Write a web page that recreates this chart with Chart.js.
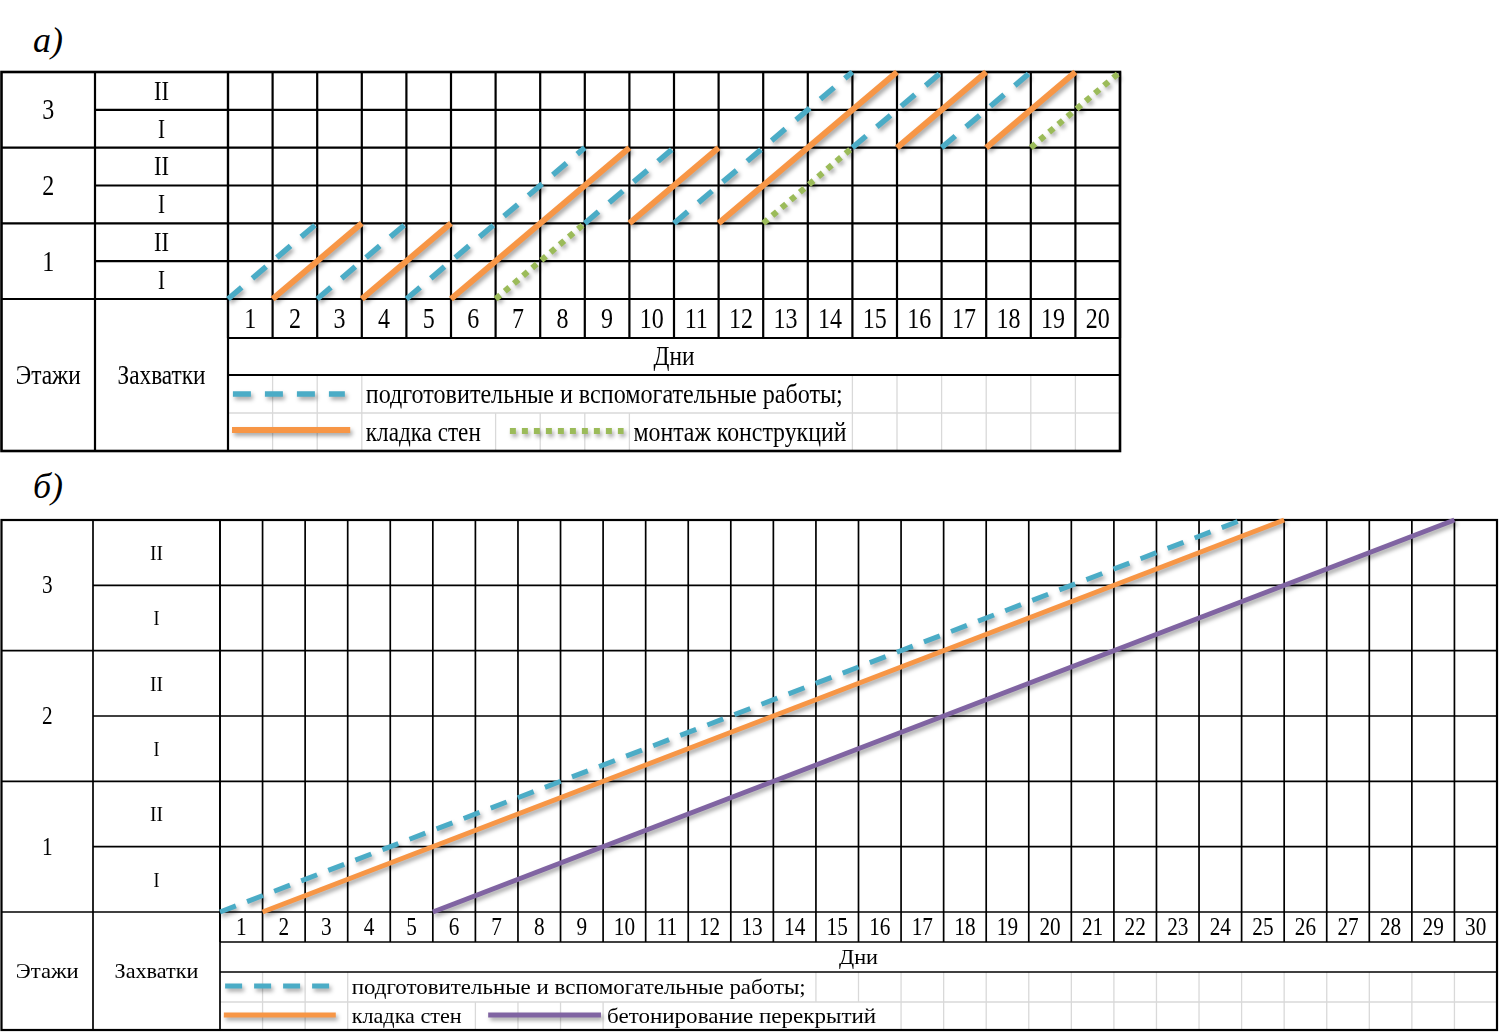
<!DOCTYPE html>
<html lang="ru">
<head>
<meta charset="utf-8">
<title>Циклограммы работ</title>
<script src="https://cdn.jsdelivr.net/npm/chart.js@4.4.1/dist/chart.umd.min.js"></script>
<style>
  html, body { margin: 0; padding: 0; background: #fff; }
  body { position: relative; width: 1500px; height: 1033px; overflow: hidden; font-family: "Liberation Serif", "Times New Roman", serif; }
  .tag { position: absolute; left: 33px; font-size: 36px; font-style: italic; line-height: 1; }
  canvas { position: absolute; left: 0; }
</style>
</head>
<body>
<div class="tag" style="top:22px">а)</div>
<div class="tag" style="top:468px">б)</div>
<canvas id="chartA" width="1500" height="470" style="top:0"></canvas>
<canvas id="chartB" width="1500" height="563" style="top:470px"></canvas>

<script>
// ---------- data: panel а) ----------
const daysA = [1, 2, 3, 4, 5, 6, 7, 8, 9, 10, 11, 12, 13, 14, 15, 16, 17, 18, 19, 20];
// segments: [start day, start zone, end day, end zone]
const prepA = [[0, 0, 2, 2], [2, 0, 4, 2], [4, 0, 8, 4], [8, 2, 10, 4], [10, 2, 14, 6], [14, 4, 16, 6], [16, 4, 18, 6]];
const wallsA = [[1, 0, 3, 2], [3, 0, 5, 2], [5, 0, 9, 4], [9, 2, 11, 4], [11, 2, 15, 6], [15, 4, 17, 6], [17, 4, 19, 6]];
const mountA = [[6, 0, 8, 2], [12, 2, 14, 4], [18, 4, 20, 6]];

// ---------- data: panel б) ----------
const daysB = [1, 2, 3, 4, 5, 6, 7, 8, 9, 10, 11, 12, 13, 14, 15, 16, 17, 18, 19, 20,
  21, 22, 23, 24, 25, 26, 27, 28, 29, 30];
const prepB = [[0, 0, 24, 6]];
const wallsB = [[1, 0, 25, 6]];
const slabsB = [[5, 0, 29, 6]];

// common labels
const floors = ['1', '2', '3'];
const zones = ['I', 'II'];
const axisTitle = 'Дни';
const colTitles = ['Этажи', 'Захватки'];
const names = {
  prep: 'подготовительные и вспомогательные работы;',
  walls: 'кладка стен',
  mount: 'монтаж конструкций',
  slabs: 'бетонирование перекрытий'
};

const COLORS = { prep: '#4BACC6', walls: '#F79646', mount: '#9BBB59', slabs: '#8064A2' };
const FONT = '"Liberation Serif", "Times New Roman", serif';

// turn segment lists into one line with gaps
function segPoints(segs) {
  const pts = [];
  segs.forEach(s => {
    pts.push({ x: s[0], y: s[1] }, { x: s[2], y: s[3] }, { x: s[2], y: null });
  });
  return pts;
}

function seg(ctx, x0, y0, x1, y1) {
  ctx.beginPath();
  ctx.moveTo(x0, y0);
  ctx.lineTo(x1, y1);
  ctx.stroke();
}

// text squeezed horizontally like in the original sheet
function text(ctx, str, x, y, size, opt) {
  opt = opt || {};
  ctx.save();
  ctx.font = size + 'px ' + FONT;
  ctx.fillStyle = '#000';
  ctx.textBaseline = 'middle';
  ctx.textAlign = opt.align || 'center';
  const w = ctx.measureText(str).width;
  const sx = opt.width ? opt.width / w : (opt.sx || 1);
  ctx.translate(x, y + 1.5);
  ctx.scale(sx, 1);
  ctx.fillText(str, 0, 0);
  ctx.restore();
}

const cycloPlugin = {
  id: 'cyclo',
  beforeDatasetsDraw(chart, args, o) {
    const ctx = chart.ctx, a = chart.chartArea, x = chart.scales.x, y = chart.scales.y;
    const yb = [a.bottom];
    o.rowsBelow.forEach(h => yb.push(yb[yb.length - 1] + h));
    const bottom = yb[yb.length - 1];
    const left = o.left, c1 = o.c1;
    ctx.save();

    // light grid of the legend rows
    ctx.strokeStyle = '#d9d9d9';
    ctx.lineWidth = 1.3;
    o.legendGrid.forEach((list, i) => list.forEach(d => {
      const px = x.getPixelForValue(d);
      seg(ctx, px, yb[2 + i], px, yb[3 + i]);
    }));
    seg(ctx, a.left, yb[3], a.right, yb[3]);

    // black rules
    ctx.strokeStyle = '#000';
    ctx.lineWidth = o.lw;
    for (let r = 0; r <= zones.length * floors.length; r++) {
      const py = y.getPixelForValue(r);
      seg(ctx, r % 2 ? c1 : left, py, a.right, py);
    }
    for (let d = 0; d <= o.days.length; d++) {
      const px = x.getPixelForValue(d);
      seg(ctx, px, a.top, px, yb[1]);
    }
    seg(ctx, a.left, yb[1], a.right, yb[1]);
    seg(ctx, a.left, yb[2], a.right, yb[2]);
    seg(ctx, c1, a.top, c1, bottom);
    seg(ctx, a.left, a.top, a.left, bottom);
    ctx.lineWidth = o.border;
    ctx.strokeRect(left, a.top, a.right - left, bottom - a.top);
    ctx.restore();

    // labels
    const f = o.fonts;
    floors.forEach((fl, i) => {
      text(ctx, fl, (left + c1) / 2, y.getPixelForValue(i * 2 + 1), f.num, { sx: f.numSx });
      zones.forEach((z, j) => {
        text(ctx, z, (c1 + a.left) / 2, y.getPixelForValue(i * 2 + j + 0.5), f.zone, { width: z === 'I' ? f.zoneW1 : f.zoneW2 });
      });
    });
    o.days.forEach((d, i) => {
      text(ctx, String(d), x.getPixelForValue(i + 0.5), (yb[0] + yb[1]) / 2, f.num, { sx: f.numSx });
    });
    text(ctx, axisTitle, (a.left + a.right) / 2, (yb[1] + yb[2]) / 2, f.word, { width: f.dniW });
    text(ctx, colTitles[0], (left + c1) / 2, (a.bottom + bottom) / 2, f.word, { width: f.etW });
    text(ctx, colTitles[1], (c1 + a.left) / 2, (a.bottom + bottom) / 2, f.word, { width: f.zaW });
    o.legendText.forEach(t => {
      text(ctx, names[t.key], x.getPixelForValue(t.d) + 4, (yb[2 + t.row] + yb[3 + t.row]) / 2,
        f.word, { align: 'left', width: t.w });
    });

    // soft shadow under the work lines
    ctx.save();
    ctx.shadowColor = 'rgba(0,0,0,0.35)';
    ctx.shadowBlur = 4;
    ctx.shadowOffsetX = 2;
    ctx.shadowOffsetY = 3;
  },
  afterDatasetsDraw(chart, args, o) {
    const ctx = chart.ctx, a = chart.chartArea, x = chart.scales.x;
    const yb = [a.bottom];
    o.rowsBelow.forEach(h => yb.push(yb[yb.length - 1] + h));
    // legend samples (shadow still active)
    o.samples.forEach(s => {
      const ds = chart.data.datasets[s.ds];
      const py = (yb[2 + s.row] + yb[3 + s.row]) / 2 + s.dy;
      ctx.strokeStyle = ds.borderColor;
      ctx.lineWidth = ds.borderWidth;
      ctx.setLineDash(ds.borderDash || []);
      seg(ctx, x.getPixelForValue(s.d0), py, x.getPixelForValue(s.d1), py);
    });
    ctx.setLineDash([]);
    ctx.restore();
  }
};

function lineSet(key, segs, width, dash) {
  return {
    label: names[key],
    data: segPoints(segs),
    borderColor: COLORS[key],
    borderWidth: width,
    borderDash: dash,
    borderCapStyle: 'butt',
    pointRadius: 0,
    tension: 0,
    spanGaps: false,
    clip: false
  };
}

function makeChart(id, days, datasets, pad, cyclo) {
  return new Chart(document.getElementById(id), {
    type: 'line',
    data: { datasets: datasets },
    options: {
      responsive: false,
      animation: false,
      devicePixelRatio: 1,
      layout: { padding: pad },
      events: [],
      scales: {
        x: { type: 'linear', min: 0, max: days.length, display: false },
        y: { type: 'linear', min: 0, max: zones.length * floors.length, display: false }
      },
      plugins: { legend: { display: false }, tooltip: { enabled: false }, cyclo: cyclo }
    },
    plugins: [cycloPlugin]
  });
}

// Panel а)
makeChart('chartA', daysA, [
  lineSet('prep', prepA, 5.5, [18, 14]),
  lineSet('walls', wallsA, 6, []),
  lineSet('mount', mountA, 6, [6, 6])
], { left: 228, top: 72, right: 380, bottom: 171 }, {
  days: daysA,
  left: 1.5, c1: 95,
  rowsBelow: [39, 37, 38, 38],
  lw: 2.2, border: 2.6,
  fonts: { num: 30, numSx: 0.8, zone: 28, zoneW1: 7, zoneW2: 15, word: 27, dniW: 41, etW: 65, zaW: 88 },
  legendGrid: [[1, 2, 3, 14, 15, 16, 17, 18, 19], [1, 2, 3, 6, 7, 8, 9, 14, 15, 16, 17, 18, 19]],
  legendText: [{ key: 'prep', d: 3, row: 0, w: 477 }, { key: 'walls', d: 3, row: 1, w: 115 }, { key: 'mount', d: 9, row: 1, w: 213 }],
  samples: [{ ds: 0, d0: 0.11, d1: 2.62, row: 0, dy: 0 }, { ds: 1, d0: 0.09, d1: 2.74, row: 1, dy: -2 },
    { ds: 2, d0: 6.32, d1: 8.87, row: 1, dy: -1 }]
});

// Panel б)
makeChart('chartB', daysB, [
  lineSet('prep', prepB, 5, [17, 12]),
  lineSet('walls', wallsB, 5, []),
  lineSet('slabs', slabsB, 5, [])
], { left: 220, top: 50, right: 3, bottom: 121 }, {
  days: daysB,
  left: 1.5, c1: 93,
  rowsBelow: [30, 30, 30, 28],
  lw: 1.7, border: 2.2,
  fonts: { num: 25, numSx: 0.85, zone: 22, zoneW1: 6, zoneW2: 13, word: 22, dniW: 39, etW: 63, zaW: 84 },
  legendGrid: [[1, 2, 3, 14, 15, 16, 17, 18, 19, 20, 21, 22, 23, 24, 25, 26, 27, 28, 29],
    [1, 2, 3, 6, 7, 8, 9, 16, 17, 18, 19, 20, 21, 22, 23, 24, 25, 26, 27, 28, 29]],
  legendText: [{ key: 'prep', d: 3, row: 0, w: 454 }, { key: 'walls', d: 3, row: 1, w: 110 }, { key: 'slabs', d: 9, row: 1, w: 269 }],
  samples: [{ ds: 0, d0: 0.12, d1: 2.6, row: 0, dy: -1 }, { ds: 1, d0: 0.09, d1: 2.72, row: 1, dy: -1 },
    { ds: 2, d0: 6.3, d1: 8.95, row: 1, dy: -1 }]
});
</script>
</body>
</html>
